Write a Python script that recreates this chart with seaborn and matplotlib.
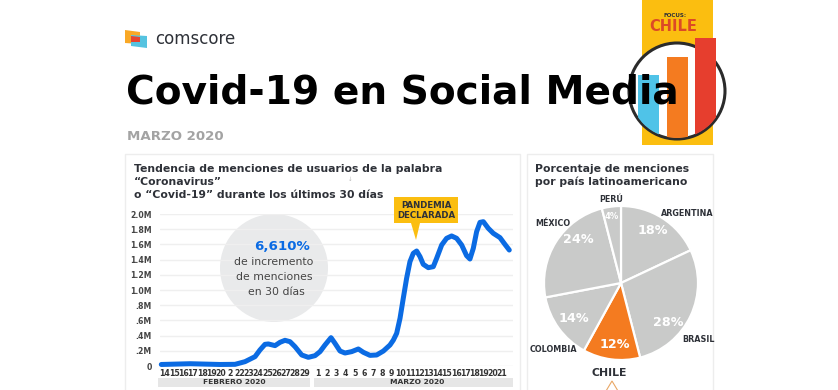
import matplotlib

matplotlib.use("Agg")
import matplotlib.pyplot as plt
import seaborn as sns
from matplotlib.patches import Circle, Polygon, Rectangle

W, H = 838, 390

# line chart, x is day position from 14 Feb
day_pos = [-0.4, 2.7, 5.9, 7.53, 8.6, 9.68, 10.21, 10.75, 11.11, 11.83, 12.37, 12.9, 13.44, 13.98,
           14.7, 15.41, 16.13, 16.67, 17.2, 17.85, 18.28, 18.82, 19.35, 20.07, 20.79, 21.33, 22.04,
           22.76, 23.48, 24.19, 24.55, 24.91, 25.27, 25.62, 25.98, 26.34, 26.7, 27.06, 27.42, 27.77,
           28.31, 28.85, 29.21, 29.75, 30.28, 30.82, 31.36, 31.9, 32.43, 32.79, 33.15, 33.51, 33.87,
           34.23, 34.76, 35.3, 36.02, 36.55, 37.02]
mentions = [0.02, 0.03, 0.02, 0.022, 0.057, 0.123, 0.211, 0.285, 0.29, 0.268, 0.312, 0.338, 0.32, 0.254,
            0.145, 0.114, 0.136, 0.189, 0.276, 0.373, 0.298, 0.197, 0.171, 0.189, 0.224, 0.18, 0.14,
            0.145, 0.197, 0.276, 0.34, 0.43, 0.627, 0.89, 1.154, 1.373, 1.483, 1.513, 1.439, 1.338,
            1.294, 1.307, 1.417, 1.592, 1.68, 1.711, 1.68, 1.592, 1.452, 1.408, 1.548, 1.768, 1.89,
            1.899, 1.812, 1.746, 1.689, 1.601, 1.526]
y_ticks = [0, 0.2, 0.4, 0.6, 0.8, 1.0, 1.2, 1.4, 1.6, 1.8, 2.0]
y_labels = ["0", ".2M", ".4M", ".6M", ".8M", "1.0M", "1.2M", "1.4M", "1.6M", "1.8M", "2.0M"]
feb_days = ["14", "15", "16", "17", "18", "19", "20", "2", "22", "23", "24", "25", "26", "27", "28", "29"]
mar_days = [str(d) for d in range(1, 22)]

# pie chart
countries = ["ARGENTINA", "BRASIL", "CHILE", "COLOMBIA", "MÉXICO", "PERÚ"]
shares = [18, 28, 12, 14, 24, 4]

BLUE = "#0B6BE3"
GRAY = "#C9CAC9"
ORANGE = "#F47B20"
YELLOW = "#FBBE10"
DARK = "#2E3138"

sns.set_theme(style="white")
plt.rcParams["font.family"] = ["DejaVu Sans"]


def px_axes(fig, left, top, right, bottom, **kw):
    return fig.add_axes([left / W, 1 - bottom / H, (right - left) / W, (bottom - top) / H], **kw)


fig = plt.figure(figsize=(W / 100, H / 100), dpi=100, facecolor="white")

# background layer in pixel coordinates
bg = px_axes(fig, 0, 0, W, H, zorder=0)
bg.set_xlim(0, W)
bg.set_ylim(H, 0)
bg.axis("off")

for x0, x1 in [(125, 520), (527, 713)]:
    bg.add_patch(Rectangle((x0, 154), x1 - x0, 240, fc="white", ec="#EDEDED", lw=1))
bg.add_patch(Rectangle((158, 378), 152, 9, fc="#E6E6E6", ec="none"))
bg.add_patch(Rectangle((314, 378), 199, 9, fc="#E6E6E6", ec="none"))

# comscore logo
bg.add_patch(Polygon([(125, 30), (140, 32), (140, 44), (125, 43)], fc="#F9A825", ec="none"))
bg.add_patch(Polygon([(131, 35), (147, 36), (147, 48), (131, 46)], fc="#55C3E0", ec="none"))
bg.add_patch(Polygon([(131, 36), (140, 37), (140, 42), (131, 42)], fc="#E8432E", ec="none"))
bg.text(155, 39, "comscore", fontsize=12, color=DARK, va="center", ha="left")

# focus badge
bg.add_patch(Rectangle((642, 0), 71, 145, fc=YELLOW, ec="none"))
ring = Circle((677, 91), 48, fc="white", ec="#2B2B2B", lw=2.2)
bg.add_patch(ring)
for x0, x1, top, col in [(638, 659, 75, "#4FC3E8"), (667, 688, 57, "#F47B20"), (695, 716, 38, "#E63E2E")]:
    bg.add_patch(Rectangle((x0, top), x1 - x0, 91 - top, fc=col, ec="none"))
    low = Rectangle((x0, 91), x1 - x0, 54, fc=col, ec="none")
    bg.add_patch(low)
    low.set_clip_path(Circle((677, 91), 47, transform=bg.transData))
bg.text(675, 15.5, "FOCUS:", fontsize=4, fontweight="bold", color=DARK, ha="center", va="center")
bg.text(673, 26.5, "CHILE", fontsize=10.5, fontweight="bold", color="#DC4A26", ha="center", va="center")

bg.text(126, 92, "Covid-19 en Social Media", fontsize=28.2, fontweight="bold", color="black",
        ha="left", va="center", zorder=5)
bg.text(127, 136.5, "MARZO 2020", fontsize=9.6, fontweight="bold", color="#A3A3A3", ha="left", va="center")

for y, line in zip([169, 182, 195], ["Tendencia de menciones de usuarios de la palabra", "“Coronavirus”",
                                     "o “Covid-19” durante los últimos 30 días"]):
    bg.text(134, y, line, fontsize=7.8, fontweight="bold", color=DARK, ha="left", va="center")
bg.text(350, 179, "↓", fontsize=4, color="#BBBBBB", ha="center", va="center")
for y, line in zip([169, 182], ["Porcentaje de menciones", "por país latinoamericano"]):
    bg.text(535, y, line, fontsize=7.8, fontweight="bold", color=DARK, ha="left", va="center")

bg.add_patch(Circle((274, 268), 54, fc="#E9EAEB", ec="none", zorder=3))

# line chart
ax = px_axes(fig, 160, 214, 513, 366, zorder=1)
ax.patch.set_alpha(0)
sns.lineplot(x=day_pos, y=mentions, ax=ax, color=BLUE, linewidth=3.6, sort=False, errorbar=None,
             solid_capstyle="round", clip_on=False)
ax.set_xlim(-0.54, 37.42)
ax.set_ylim(0, 2.0)
ax.set_yticks(y_ticks)
ax.set_yticklabels(y_labels, fontsize=5.6, fontweight="bold", color="#444444")
ax.tick_params(axis="y", length=0, pad=6)
ax.set_xticks([])
ax.yaxis.grid(True, color="#EFEFEF", lw=1)
ax.set_axisbelow(True)
sns.despine(ax=ax, left=True, bottom=True)

# day labels sit on the same day scale as the line
day_ax = px_axes(fig, 160, 214, 513, 366, zorder=4)
day_ax.patch.set_alpha(0)
day_ax.axis("off")
day_ax.set_xlim(-0.54, 37.42)
day_ax.set_ylim(0, 2.0)
for i, d in enumerate(feb_days):
    day_ax.text(i, -0.105, d, fontsize=5.6, fontweight="bold", color="#333333", ha="center", va="center", clip_on=False)
for i, d in enumerate(mar_days):
    day_ax.text(16.45 + i * 0.99, -0.105, d, fontsize=5.6, fontweight="bold", color="#333333", ha="center",
                va="center", clip_on=False)

# overlay texts
top = px_axes(fig, 0, 0, W, H, zorder=6)
top.set_xlim(0, W)
top.set_ylim(H, 0)
top.axis("off")
top.patch.set_alpha(0)
top.text(282, 246, "6,610%", fontsize=9.6, fontweight="bold", color=BLUE, ha="center", va="center")
top.text(274, 262, "de incremento", fontsize=7.8, color="#444444", ha="center", va="center")
top.text(274, 277, "de menciones", fontsize=7.8, color="#444444", ha="center", va="center")
top.text(276, 292, "en 30 días", fontsize=7.8, color="#444444", ha="center", va="center")
top.add_patch(Rectangle((394, 197), 64, 26, fc=YELLOW, ec="none"))
top.add_patch(Polygon([(411, 223), (420, 223), (416, 240)], fc=YELLOW, ec="none"))
top.text(426, 205.5, "PANDEMIA", fontsize=6.2, fontweight="bold", color=DARK, ha="center", va="center")
top.text(426, 215, "DECLARADA", fontsize=6.2, fontweight="bold", color=DARK, ha="center", va="center")
top.text(234, 382.5, "FEBRERO 2020", fontsize=5.4, fontweight="bold", color="#333333", ha="center", va="center")
top.text(417, 382.5, "MARZO 2020", fontsize=5.4, fontweight="bold", color="#333333", ha="center", va="center")

for x, y, name in [(687, 213, "ARGENTINA"), (698, 339, "BRASIL"), (553, 349, "COLOMBIA"), (553, 224, "MÉXICO"),
                   (611, 200, "PERÚ")]:
    top.text(x, y, name, fontsize=5.8, fontweight="bold", color=DARK, ha="center", va="center")
top.text(609, 373, "CHILE", fontsize=7.8, fontweight="bold", color=DARK, ha="center", va="center")
top.add_patch(Polygon([(606, 391), (612, 381), (618, 391)], fc="white", ec="#E9A765", lw=0.8))

# pie chart
pie_ax = px_axes(fig, 544, 206, 698, 360, zorder=2)
colors = [ORANGE if c == "CHILE" else GRAY for c in countries]
wedges, _, pcts = pie_ax.pie(shares, colors=colors, startangle=90, counterclock=False, radius=1.0,
                             autopct="%d%%", pctdistance=0.8, wedgeprops=dict(edgecolor="white", linewidth=1.6))
# the percent labels are not on one radius in the original, nudge them
pct_px = [(653, 230), (668, 323), (615, 344), (574, 318), (578, 239), (612, 216)]
for t, s, (x, y) in zip(pcts, shares, pct_px):
    t.set_position(((x - 621) / 77, (283 - y) / 77))
    t.set_color("white")
    t.set_fontweight("bold")
    t.set_fontsize(6 if s < 5 else 9.2)
pie_ax.set_xlim(-1, 1)
pie_ax.set_ylim(-1, 1)

fig.savefig("out.png", dpi=100)
